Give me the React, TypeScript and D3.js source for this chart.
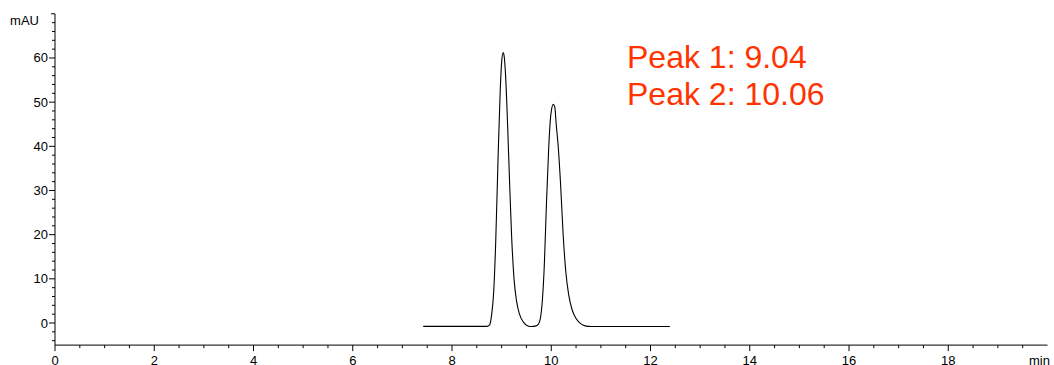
import * as d3 from "d3"

// retention time (min) and absorbance (mAU)
const times = [
  7.42, 8.7, 8.76, 8.8, 8.84, 8.88, 8.93, 8.97, 9.0, 9.03, 9.05, 9.08, 9.12, 9.16, 9.2, 9.25, 9.3, 9.36, 9.44,
  9.52, 9.6, 9.68, 9.74, 9.78, 9.82, 9.86, 9.9, 9.95, 9.99, 10.04, 10.07, 10.1, 10.14, 10.19, 10.24, 10.29,
  10.35, 10.42, 10.5, 10.6, 10.7, 10.8, 12.39,
]
const signal = [
  -0.75, -0.75, -0.4, 2, 7, 18, 38, 52, 59, 61.2, 60.5, 56, 45, 32, 20, 10, 5, 2, 0.2,
  -0.6, -0.8, -0.7, -0.3, 1, 5, 13, 26, 40, 47, 49.5, 49, 45, 40, 31, 20, 12,
  6.5, 3, 1, -0.2, -0.7, -0.8, -0.8,
]

const xMajor = [0, 2, 4, 6, 8, 10, 12, 14, 16, 18]
const yMajor = [0, 10, 20, 30, 40, 50, 60]
const peakLabels = ["Peak 1: 9.04", "Peak 2: 10.06"]

export default function App() {
  const width = 1054
  const height = 365
  const x = d3.scaleLinear().domain([0, 20]).range([55, 1047.5])
  const y = d3.scaleLinear().domain([-5, 70]).range([345.1, 13.8])

  const pts = times.map((t, i) => [t, signal[i]] as [number, number])
  const line = d3
    .line<[number, number]>()
    .x((d) => x(d[0]))
    .y((d) => y(d[1]))
    .curve(d3.curveMonotoneX)

  const xMinor = d3.range(0.5, 20, 0.5).filter((v) => Math.abs(v % 2) > 1e-6)
  const yMinor = d3.range(-4, 70, 2).filter((v) => Math.abs(v % 10) > 1e-6)
  const font = "'Liberation Sans', Arial, sans-serif"
  const x0 = x(0)
  const yBase = y(-5)

  return (
    <svg width={width} height={height} style={{ position: "absolute", left: 0, top: 0 }} fontFamily={font}>
      <rect width={width} height={height} fill="white" />
      {/* y axis */}
      <line x1={x0} x2={x0} y1={y(70)} y2={yBase} stroke="black" />
      <line x1={x0 - 4} x2={x0} y1={y(70)} y2={y(70)} stroke="black" />
      {yMinor.map((v) => (
        <line key={"ym" + v} x1={x0 - 3} x2={x0} y1={y(v)} y2={y(v)} stroke="black" />
      ))}
      {yMajor.map((v) => (
        <g key={"y" + v}>
          <line x1={x0 - 6} x2={x0} y1={y(v)} y2={y(v)} stroke="black" />
          <text x={x0 - 7} y={y(v) + 4.5} textAnchor="end" fontSize={13}>
            {v}
          </text>
        </g>
      ))}
      <text x={39} y={25} textAnchor="end" fontSize={13}>
        mAU
      </text>
      {/* x axis */}
      <line x1={x0} x2={x(20)} y1={yBase} y2={yBase} stroke="black" />
      {xMinor.map((v) => (
        <line key={"xm" + v} x1={x(v)} x2={x(v)} y1={yBase} y2={yBase + 3} stroke="black" />
      ))}
      {xMajor.map((v) => (
        <g key={"x" + v}>
          <line x1={x(v)} x2={x(v)} y1={yBase} y2={yBase + 6} stroke="black" />
          <text x={x(v)} y={365} textAnchor="middle" fontSize={13}>
            {v}
          </text>
        </g>
      ))}
      <text x={1039.5} y={365} textAnchor="middle" fontSize={13}>
        min
      </text>
      {/* trace */}
      <path d={line(pts) ?? ""} fill="none" stroke="black" strokeWidth={1.1} />
      {peakLabels.map((s, i) => (
        <text key={s} x={627} y={68 + i * 37} fontSize={32} fill="#ff3300">
          {s}
        </text>
      ))}
    </svg>
  )
}
